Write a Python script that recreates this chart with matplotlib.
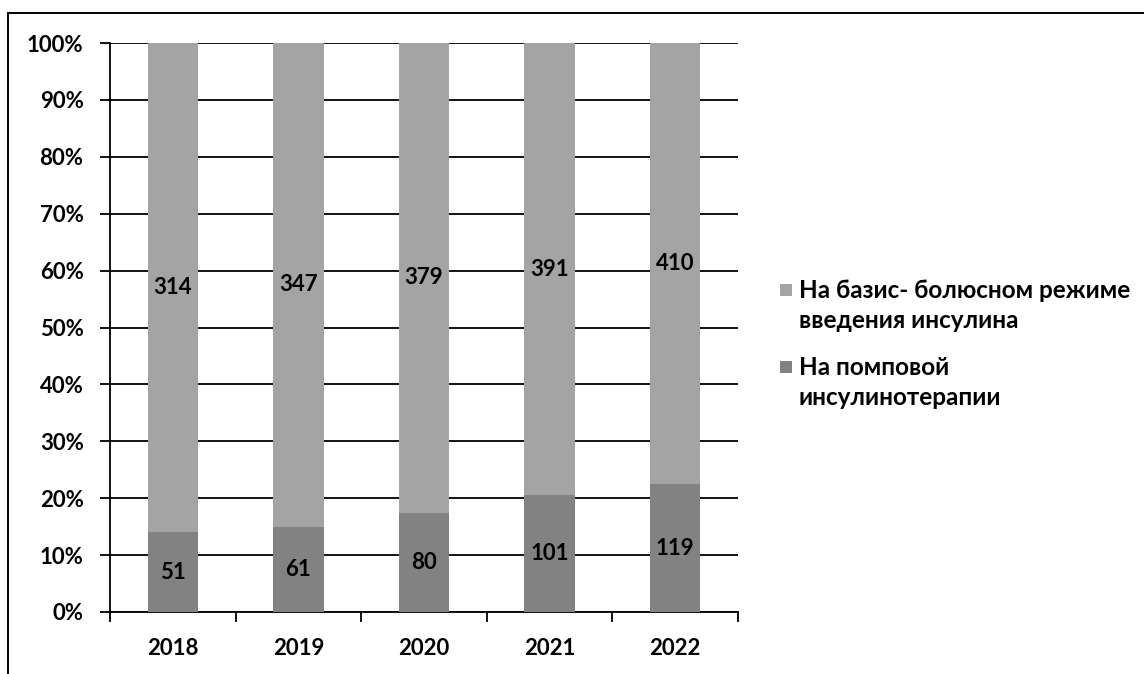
import numpy as np
import matplotlib.pyplot as plt
from matplotlib.patches import Rectangle

plt.rcParams['font.family'] = ['Lato', 'DejaVu Sans']
plt.rcParams['font.weight'] = 'bold'

# years and patient counts
years = ['2018', '2019', '2020', '2021', '2022']
pump = [51, 61, 80, 101, 119]
basal_bolus = [314, 347, 379, 391, 410]
pump_label = ['На помповой', 'инсулинотерапии']
basal_label = ['На базис- болюсном режиме', 'введения инсулина']

pump_color = '#828282'
basal_color = '#a4a4a4'

pump_arr = np.array(pump, dtype=float)
basal_arr = np.array(basal_bolus, dtype=float)
total = pump_arr + basal_arr
pump_pct = pump_arr / total * 100
basal_pct = basal_arr / total * 100

W, H = 1144, 674
fig = plt.figure(figsize=(W / 100, H / 100), dpi=100)
ax = fig.add_axes([110 / W, 1 - 612 / H, 628 / W, 569 / H])

fs = 16
x = np.arange(len(years))
w = 0.4
ax.bar(x, pump_pct, w, color=pump_color, zorder=3)
ax.bar(x, basal_pct, w, bottom=pump_pct, color=basal_color, zorder=3)

# value labels in the middle of each segment
for i in range(len(years)):
    ax.text(x[i], pump_pct[i] / 2, str(pump[i]), ha='center', va='center',
            fontsize=fs, color='black', zorder=4)
    ax.text(x[i], pump_pct[i] + basal_pct[i] / 2, str(basal_bolus[i]), ha='center',
            va='center', fontsize=fs, color='black', zorder=4)

ax.set_xlim(-0.5, len(years) - 0.5)
ax.set_ylim(0, 100)
ax.set_yticks(np.arange(0, 101, 10))
ax.set_yticklabels([f'{v}%' for v in range(0, 101, 10)], fontsize=fs)
ax.yaxis.grid(True, color='black', linewidth=1.3, zorder=1)
ax.tick_params(axis='y', length=7, width=1.3, direction='out', pad=12)

ax.set_xticks(x)
ax.set_xticklabels(years, fontsize=fs)
ax.set_xticks(np.arange(-0.5, len(years)), minor=True)
ax.tick_params(axis='x', which='major', length=0, pad=19)
ax.tick_params(axis='x', which='minor', length=7, width=1.3, direction='out')

for s in ['top', 'right']:
    ax.spines[s].set_visible(False)
ax.spines['left'].set_linewidth(1.3)
ax.spines['bottom'].set_linewidth(1.3)

# legend drawn by hand so the square sits on the first line of each entry
legend_items = [(basal_label, basal_color, 290), (pump_label, pump_color, 367)]
for lines, color, yc in legend_items:
    fig.patches.append(Rectangle((780 / W, 1 - (yc + 6) / H), 12 / W, 12 / H,
                                 transform=fig.transFigure, facecolor=color,
                                 edgecolor='none'))
    for k, line in enumerate(lines):
        fig.text(799 / W, 1 - (yc + 8 + 30 * k) / H, line, fontsize=17.5,
                 va='baseline', ha='left')

# outer chart frame
fig.patches.append(Rectangle((8 / W, -0.05), 1.1, 1 - 13 / H + 0.05,
                             transform=fig.transFigure, fill=False,
                             edgecolor='black', linewidth=1.4))

fig.savefig('out.png', dpi=100)
